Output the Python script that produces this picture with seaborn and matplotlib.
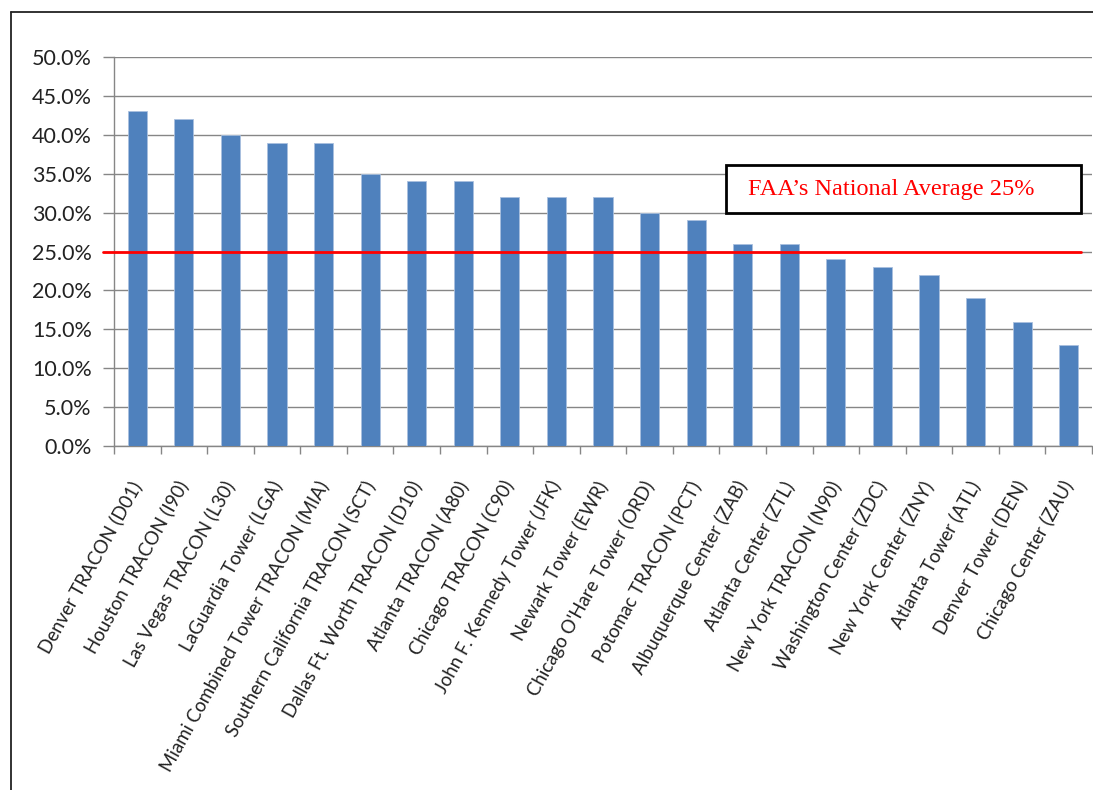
import matplotlib
matplotlib.use("Agg")
import matplotlib.pyplot as plt
import seaborn as sns
import pandas as pd
from matplotlib.lines import Line2D
from matplotlib.patches import Rectangle
from matplotlib.ticker import FuncFormatter, FixedLocator

facilities = [
    "Denver TRACON (D01)", "Houston TRACON (I90)", "Las Vegas TRACON (L30)",
    "LaGuardia Tower (LGA)", "Miami Combined Tower TRACON (MIA)",
    "Southern California TRACON (SCT)", "Dallas Ft. Worth TRACON (D10)",
    "Atlanta TRACON (A80)", "Chicago TRACON (C90)", "John F. Kennedy Tower (JFK)",
    "Newark Tower (EWR)", "Chicago O'Hare Tower (ORD)", "Potomac TRACON (PCT)",
    "Albuquerque Center (ZAB)", "Atlanta Center (ZTL)", "New York TRACON (N90)",
    "Washington Center (ZDC)", "New York Center (ZNY)", "Atlanta Tower (ATL)",
    "Denver Tower (DEN)", "Chicago Center (ZAU)",
]
percent_values = [43, 42, 40, 39, 39, 35, 34, 34, 32, 32, 32, 30, 29, 26, 26,
                  24, 23, 22, 19, 16, 13]
national_average = 25
average_label = "FAA\u2019s National Average 25%"
y_ticks = [0, 5, 10, 15, 20, 25, 30, 35, 40, 45, 50]

df = pd.DataFrame({"facility": facilities, "pct": percent_values})

sns.set_style("white")
plt.rcParams["font.family"] = ["Lato", "DejaVu Sans"]

W, H = 1093, 790
fig = plt.figure(figsize=(W / 100, H / 100), dpi=100)
ax = fig.add_axes([114 / W, 1 - 446 / H, 978 / W, 389 / H])

grid_c = "#868686"
bar_c = "#4F81BD"

sns.barplot(data=df, x="facility", y="pct", color=bar_c, width=0.41,
            saturation=1, edgecolor="#a9c0df", linewidth=0.6, ax=ax, zorder=3)

ax.set_xlim(-0.5, len(facilities) - 0.5)
ax.set_ylim(0, 50)
ax.set_yticks(y_ticks)
ax.yaxis.set_major_formatter(FuncFormatter(lambda v, p: f"{v:.1f}%"))
ax.yaxis.grid(True, color=grid_c, linewidth=1.0, zorder=0)
ax.set_axisbelow(True)
ax.set_xlabel("")
ax.set_ylabel("")

for s in ["top", "right"]:
    ax.spines[s].set_visible(False)
for s in ["left", "bottom"]:
    ax.spines[s].set_color(grid_c)
    ax.spines[s].set_linewidth(1.0)

ax.tick_params(axis="y", which="major", left=True, length=8, width=1.0,
               color=grid_c, pad=8, labelsize=15.5, labelcolor="#222222")
# category boundary ticks
ax.xaxis.set_minor_locator(FixedLocator([i - 0.5 for i in range(len(facilities) + 1)]))
ax.tick_params(axis="x", which="minor", bottom=True, length=6, width=1.0, color=grid_c)
ax.tick_params(axis="x", which="major", bottom=False, length=0, pad=26,
               labelsize=13.4, labelcolor="#222222")
ax.set_xticks(range(len(facilities)))
ax.set_xticklabels(facilities, rotation=61, ha="right", va="center",
                   rotation_mode="anchor")

# national average line
ax.axhline(national_average, xmin=-11 / 978, xmax=967 / 978, color="#FF0000",
           linewidth=2.0, clip_on=False, zorder=5)

# annotation box
ax.add_patch(Rectangle((612 / 978, (446 - 213) / 389), (1081 - 726) / 978, 48 / 389,
                       transform=ax.transAxes, facecolor="white", edgecolor="black",
                       linewidth=2.0, zorder=6, clip_on=False))
ax.text((748 - 114) / 978, (446 - 190) / 389, average_label, transform=ax.transAxes,
        ha="left", va="center", color="#FF0000", fontsize=17.5,
        family=["Liberation Serif", "DejaVu Serif"], zorder=7)

# outer frame (left and top)
fx = 10.5 / W
fy = 1 - 12 / H
fig.add_artist(Line2D([fx, fx], [0, fy], transform=fig.transFigure, color="#222222", linewidth=1.3))
fig.add_artist(Line2D([fx, 1], [fy, fy], transform=fig.transFigure, color="#222222", linewidth=1.3))

fig.savefig("out.png", dpi=100)
